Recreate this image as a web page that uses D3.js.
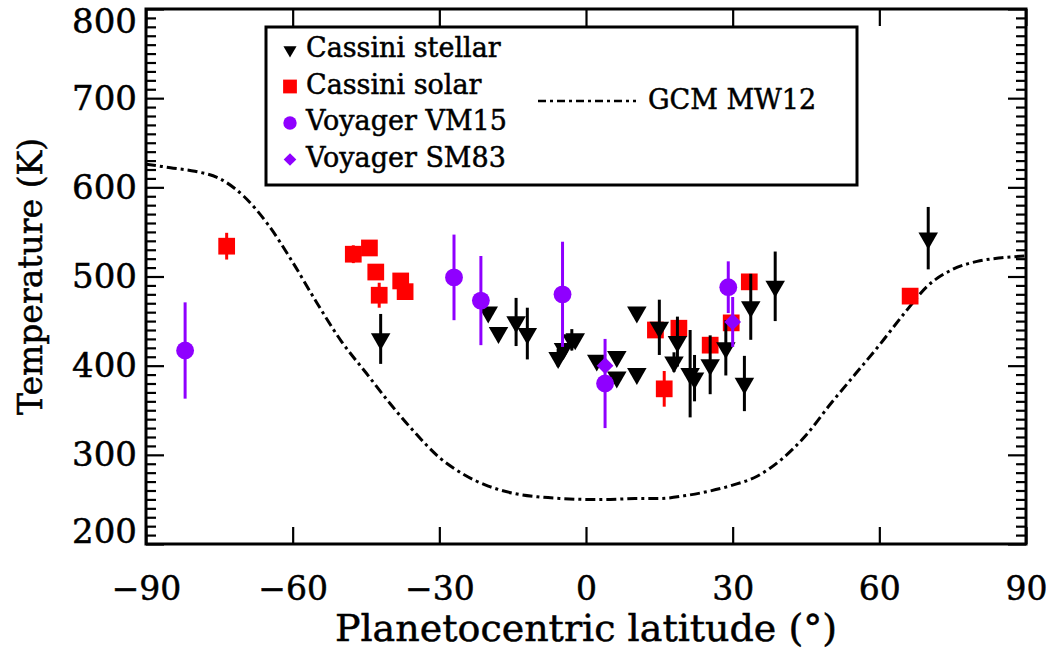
<!DOCTYPE html>
<html>
<head>
<meta charset="utf-8">
<script src="https://cdn.jsdelivr.net/npm/d3@7"></script>
<style>
  body { margin: 0; background: #fff; }
  text { font-family: "DejaVu Serif", serif; fill: #000; stroke: #000; stroke-width: 0.5px; }
</style>
</head>
<body>
<svg id="chart" width="1053" height="650"></svg>
<script>
// Cassini stellar occultations
var stellarLat = [-42.0, -20.0, -17.9, -14.3, -12.0, -5.7, -4.6, -2.9, -2.2, 2.2, 6.3, 6.3, 10.4, 10.4, 15.0, 18.0, 18.7, 21.3, 22.2, 25.4, 28.6, 32.4, 33.7, 38.7, 70.0];
var stellarT   = [430, 460, 437, 449, 436, 409, 419, 429, 430, 406, 410, 387, 460, 391, 443, 404, 427, 391, 386, 401, 420, 380, 466, 489, 543];
var stellarErr = [28, 0, 0, 27, 29, 10, 0, 12, 0, 0, 0, 0, 0, 0, 31, 11, 28, 49, 26, 33, 31, 31, 37, 39, 35];

// Cassini solar occultations
var solarLat = [-73.5, -47.6, -44.3, -43.0, -42.3, -37.9, -37.0, 14.2, 16.0, 19.0, 25.4, 29.7, 33.4, 66.3];
var solarT   = [534, 525, 532, 505, 479, 495, 483, 440, 374, 442, 423, 448, 494, 478];
var solarErr = [15, 10, 0, 0, 14, 0, 0, 0, 20, 0, 0, 0, 0, 0];

// Voyager VM15
var vm15Lat = [-82.0, -27.0, -21.5, -4.8, 3.9, 29.1];
var vm15T   = [417, 499, 473, 480, 380, 488];
var vm15Err = [54, 48, 50, 59, 50, 29];

// Voyager SM83
var sm83Lat = [3.9, 30.0];
var sm83T   = [400, 449];
var sm83Err = [0, 28];

// GCM MW12 model curve
var gcmLat = [-90, -85, -80, -75, -70, -65, -60, -55, -50, -45, -40, -35, -30, -25, -20, -15, -10, -5, 0,
              5, 10, 15, 20, 25, 30, 35, 40, 45, 50, 55, 60, 65, 70, 75, 80, 85, 90];
var gcmT   = [626, 622, 618, 610, 590, 558, 516, 470, 427, 392, 357, 325, 297, 278, 265, 257, 253, 251, 250,
              250, 251, 251, 254, 259, 266, 276, 295, 322, 357, 390, 423, 458, 490, 508, 517, 521, 523];

var xTicks = [-90, -60, -30, 0, 30, 60, 90];
var yTicks = [200, 300, 400, 500, 600, 700, 800];

var margin = {top: 9, right: 27, bottom: 106, left: 146};
var width = 1053 - margin.left - margin.right;
var height = 650 - margin.top - margin.bottom;

var svg = d3.select('#chart');
var g = svg.append('g').attr('transform', 'translate(' + margin.left + ',' + margin.top + ')');

var x = d3.scaleLinear().domain([-90, 90]).range([0, width]);
var y = d3.scaleLinear().domain([200, 800]).range([height, 0]);

var minorY = d3.range(200, 801, 10).filter(function (v) { return v % 100 !== 0; });

// axes (ticks point inward, IDL style)
var bottom = g.append('g').attr('transform', 'translate(0,' + height + ')')
  .call(d3.axisBottom(x).tickValues(xTicks).tickSizeInner(-17).tickSizeOuter(0).tickPadding(33)
    .tickFormat(function (d) { return d < 0 ? '\u2212' + Math.abs(d) : d; }));
g.append('g')
  .call(d3.axisTop(x).tickValues(xTicks).tickSizeInner(-17).tickSizeOuter(0).tickFormat(''));
var left = g.append('g')
  .call(d3.axisLeft(y).tickValues(yTicks).tickSizeInner(-18).tickSizeOuter(0).tickPadding(9));
g.append('g')
  .call(d3.axisLeft(y).tickValues(minorY).tickSizeInner(-10).tickSizeOuter(0).tickFormat(''));
g.append('g').attr('transform', 'translate(' + width + ',0)')
  .call(d3.axisRight(y).tickValues(yTicks).tickSizeInner(-18).tickSizeOuter(0).tickFormat(''));
g.append('g').attr('transform', 'translate(' + width + ',0)')
  .call(d3.axisRight(y).tickValues(minorY).tickSizeInner(-10).tickSizeOuter(0).tickFormat(''));

g.selectAll('.domain').remove();
g.selectAll('.tick line').attr('stroke', '#000').attr('stroke-width', 2.2);
bottom.selectAll('text').style('font-size', '33px');
left.selectAll('text').style('font-size', '34px')
  .attr('dy', function (d) { return d === 800 ? '0.68em' : d === 200 ? '-0.05em' : '0.32em'; });

g.append('rect')
  .attr('width', width).attr('height', height)
  .attr('fill', 'none').attr('stroke', '#000').attr('stroke-width', 3);

// axis titles
svg.append('text')
  .attr('x', margin.left + width / 2).attr('y', 641)
  .attr('text-anchor', 'middle').style('font-size', '38px')
  .text('Planetocentric latitude (\u00b0)');
svg.append('text')
  .attr('transform', 'translate(42,' + (margin.top + height / 2) + ') rotate(-90)')
  .attr('text-anchor', 'middle').style('font-size', '33px')
  .text('Temperature (K)');

// GCM curve
var line = d3.line()
  .x(function (d, i) { return x(gcmLat[i]); })
  .y(function (d) { return y(d); })
  .curve(d3.curveMonotoneX);
g.append('path')
  .datum(gcmT)
  .attr('d', line)
  .attr('fill', 'none').attr('stroke', '#000').attr('stroke-width', 3)
  .attr('stroke-dasharray', '10,4,3,4');

function zip(lat, t, err) {
  return lat.map(function (v, i) { return {lat: v, t: t[i], err: err[i]}; });
}

function drawSeries(data, color, symbolType, size, rotate) {
  var s = g.append('g');
  s.selectAll('line')
    .data(data.filter(function (d) { return d.err > 0; }))
    .enter().append('line')
    .attr('x1', function (d) { return x(d.lat); })
    .attr('x2', function (d) { return x(d.lat); })
    .attr('y1', function (d) { return y(d.t - d.err); })
    .attr('y2', function (d) { return y(d.t + d.err); })
    .attr('stroke', color).attr('stroke-width', 3);
  s.selectAll('path')
    .data(data)
    .enter().append('path')
    .attr('d', d3.symbol().type(symbolType).size(size))
    .attr('transform', function (d) {
      return 'translate(' + x(d.lat) + ',' + y(d.t) + ') rotate(' + rotate + ')';
    })
    .attr('fill', color);
}

var red = '#ff0000';
var purple = '#8f00ff';

drawSeries(zip(solarLat, solarT, solarErr), red, d3.symbolSquare, 280, 0);
drawSeries(zip(stellarLat, stellarT, stellarErr), '#000', d3.symbolTriangle, 165, 180);
drawSeries(zip(vm15Lat, vm15T, vm15Err), purple, d3.symbolCircle, 250, 0);
drawSeries(zip(sm83Lat, sm83T, sm83Err), purple, d3.symbolSquare, 140, 45);

// legend
var legend = svg.append('g');
legend.append('rect')
  .attr('x', 266).attr('y', 27).attr('width', 591).attr('height', 158)
  .attr('fill', '#fff').attr('stroke', '#000').attr('stroke-width', 3);

var legendItems = [
  {label: 'Cassini stellar', color: '#000', type: d3.symbolTriangle, size: 75, rot: 180},
  {label: 'Cassini solar', color: red, type: d3.symbolSquare, size: 190, rot: 0},
  {label: 'Voyager VM15', color: purple, type: d3.symbolCircle, size: 140, rot: 0},
  {label: 'Voyager SM83', color: purple, type: d3.symbolSquare, size: 80, rot: 45}
];
legendItems.forEach(function (it, i) {
  var ly = 48 + i * 36.5;
  legend.append('path')
    .attr('d', d3.symbol().type(it.type).size(it.size))
    .attr('transform', 'translate(290,' + (ly + 2) + ') rotate(' + it.rot + ')')
    .attr('fill', it.color);
  legend.append('text')
    .attr('x', 306).attr('y', ly).attr('dy', '0.35em')
    .style('font-size', '27px')
    .text(it.label);
});
legend.append('line')
  .attr('x1', 538).attr('x2', 636).attr('y1', 101).attr('y2', 101)
  .attr('stroke', '#000').attr('stroke-width', 2.5)
  .attr('stroke-dasharray', '8,4,3,4');
legend.append('text')
  .attr('x', 648).attr('y', 100).attr('dy', '0.35em')
  .style('font-size', '27px')
  .text('GCM MW12');
</script>
</body>
</html>
